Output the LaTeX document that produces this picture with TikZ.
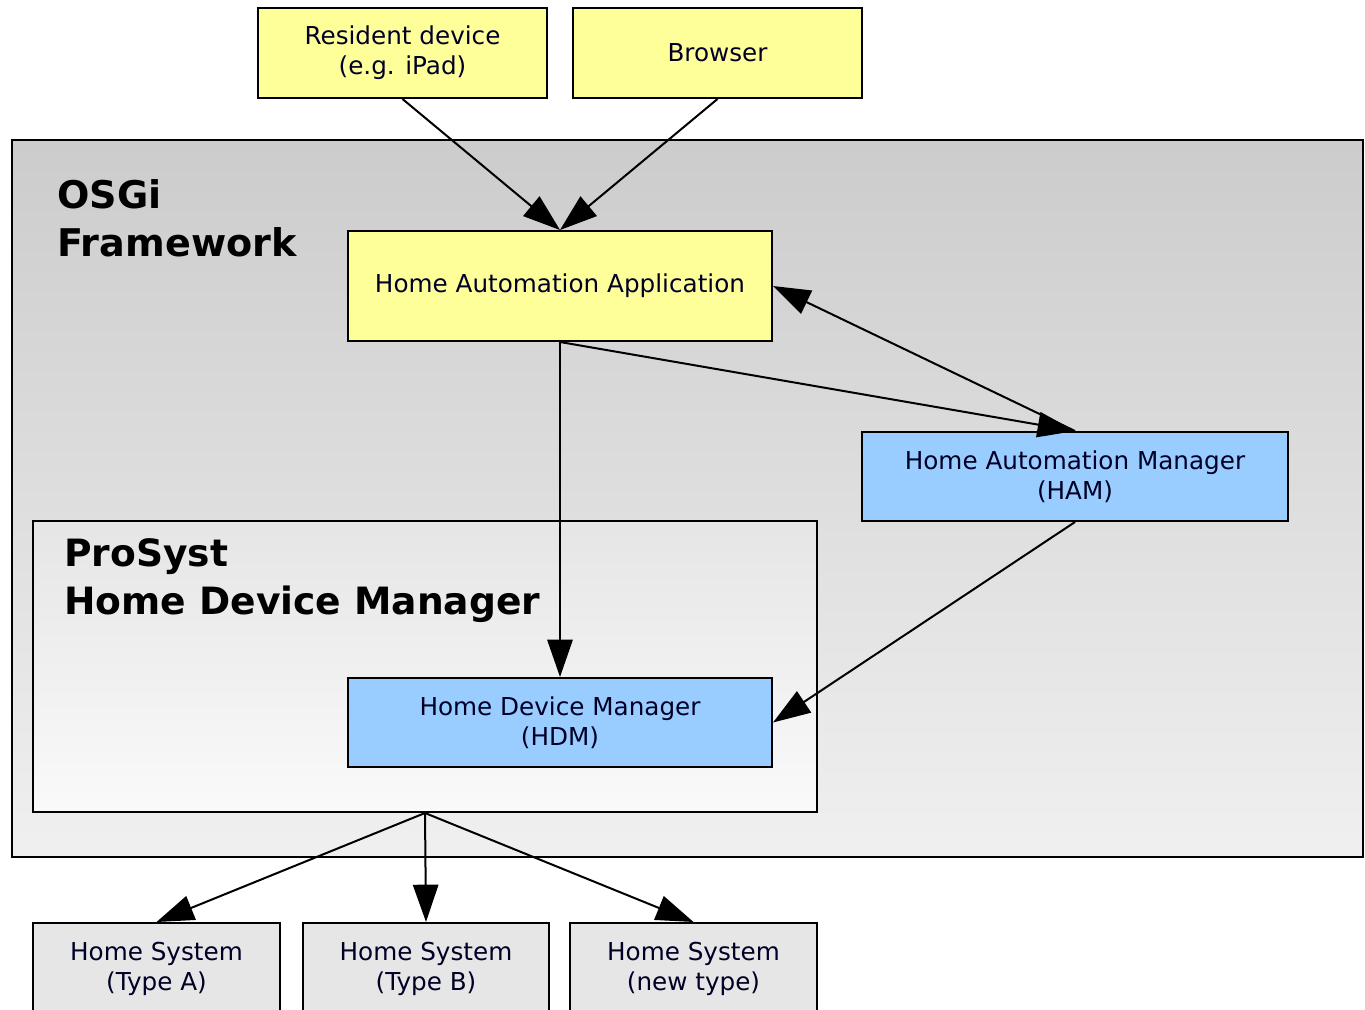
\documentclass[tikz,border=0pt]{standalone}
\usepackage{fontspec}
\setmainfont{DejaVu Sans}
\usetikzlibrary{arrows.meta,fit,shapes.geometric}
\definecolor{ylw}{HTML}{FFFF99}
\definecolor{blu}{HTML}{99CCFF}
\definecolor{gry}{HTML}{E6E6E6}
\begin{document}
\begin{tikzpicture}[x=0.75pt,y=-0.75pt,
  box/.style={draw=black,line width=1.5pt,inner sep=0pt,align=center,
     font=\fontsize{18.5}{22.5}\selectfont,text=black!85!blue},
  ybox/.style={box,fill=ylw},
  bbox/.style={box,fill=blu},
  gbox/.style={box,fill=gry},
  conn/.style={line width=1.5pt,-{Triangle[length=28pt,width=19pt]}},
  title/.style={anchor=north west,inner sep=0pt,align=left,font=\bfseries\fontsize{28.6}{36}\selectfont}]
\useasboundingbox (0,0) rectangle (1365,1010);
\clip (0,0) rectangle (1365,1010);
\fill[white] (0,0) rectangle (1365,1010);
% OSGi framework
\node[draw=black,line width=1.5pt,inner sep=0pt,top color=black!20,bottom color=black!6,
      fit={(12,140) (1363,857)}] (osgi) {};
\node[title] (osgit) at (57,179) {OSGi\\Framework};
% ProSyst container
\node[draw=black,line width=1.5pt,inner sep=0pt,top color=black!10,bottom color=black!2,
      fit={(33,521) (817,812)}] (pro) {};
\node[title,font=\bfseries\fontsize{28.2}{36}\selectfont] (prot) at (64,538) {ProSyst\\Home Device Manager};
% boxes
\node[ybox,minimum width=216.75pt,minimum height=67.5pt] (res) at (402.5,53) {Resident device\\(e.g. iPad)};
\node[ybox,minimum width=216.75pt,minimum height=67.5pt] (brw) at (717.5,53) {Browser};
\node[ybox,minimum width=318pt,minimum height=82.5pt] (haa) at (560,286) {Home Automation Application};
\node[bbox,minimum width=319.5pt,minimum height=66.75pt] (ham) at (1075,476.5) {Home Automation Manager\\(HAM)};
\node[bbox,minimum width=318pt,minimum height=66.75pt] (hdm) at (560,722.5) {Home Device Manager\\(HDM)};
\node[gbox,minimum width=185.25pt,minimum height=69pt] (hsa) at (156.5,969) {Home System\\(Type A)};
\node[gbox,minimum width=184.5pt,minimum height=69pt] (hsb) at (426,969) {Home System\\(Type B)};
\node[gbox,minimum width=185.25pt,minimum height=69pt] (hsc) at (693.5,969) {Home System\\(new type)};
% connectors
\draw[conn] (res.south) -- (haa.north);
\draw[conn] (brw.south) -- (haa.north);
\draw[conn] (haa.south) -- (hdm.north);
\draw[conn] (haa.south) -- (ham.north);
\draw[conn] (ham.north) -- (haa.east);
\draw[conn] (ham.south) -- (hdm.east);
\draw[conn] (pro.south) -- (hsa.north);
\draw[conn] (pro.south) -- (hsb.north);
\draw[conn] (pro.south) -- (hsc.north);
\end{tikzpicture}
\end{document}
